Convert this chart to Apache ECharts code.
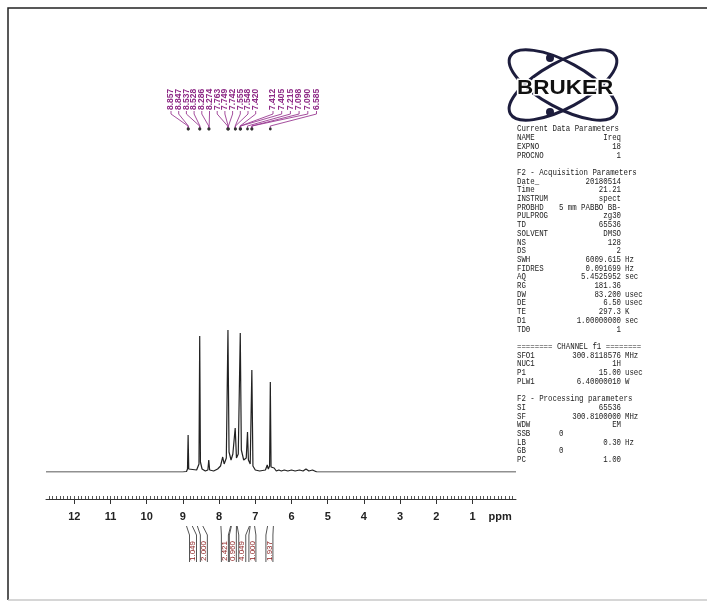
<!DOCTYPE html>
<html><head><meta charset="utf-8">
<script src="https://cdn.jsdelivr.net/npm/echarts@6/dist/echarts.min.js"></script>
<style>html,body{margin:0;padding:0;background:#fff}#c{width:710px;height:603px}</style>
</head><body><div id="c"></div>
<script>
// ---------- data ----------
// 1H NMR spectrum (ppm, relative intensity)
const spectrumPpm = [12.78, 9.00, 8.90, 8.872, 8.855, 8.838, 8.80, 8.62, 8.555, 8.535, 8.515, 8.47,
  8.38, 8.31, 8.285, 8.26, 8.15, 8.04, 7.96, 7.90, 7.86, 7.80, 7.755, 7.725,
  7.67, 7.62, 7.555, 7.52, 7.47, 7.415, 7.385, 7.32, 7.25, 7.215, 7.19, 7.14,
  7.095, 7.065, 7.00, 6.88, 6.72, 6.67, 6.64, 6.605, 6.585, 6.565, 6.52, 6.48,
  6.42, 6.35, 6.28, 6.20, 6.10, 6.00, 5.90, 5.78, 5.68, 5.60, 5.52, 5.42, 5.30, -0.20];
const spectrumInt = [0, 0, 0.5, 3, 37, 3, 1, 2, 8, 136, 10, 3,
  1, 2, 12, 2, 1, 3, 6, 15, 8, 14, 142, 20,
  12, 18, 44, 14, 18, 139, 22, 12, 14, 40, 12, 8,
  102, 6, 2, 1, 2, 7, 3, 6, 90, 5, 3, 4,
  1, 2, 1, 2, 1, 2, 1, 2, 1, 3, 1, 2, 0, 0];

const axisTickValues = [1, 2, 3, 4, 5, 6, 7, 8, 9, 10, 11, 12];
const axisTickLabels = ['1', '2', '3', '4', '5', '6', '7', '8', '9', '10', '11', '12'];
const axisUnitLabel = 'ppm';

// peak-picking labels (ppm)
const peakLabels = ['8.857', '8.847', '8.537', '8.528', '8.286', '8.274', '7.763', '7.749', '7.742',
  '7.555', '7.548', '7.420', '7.412', '7.405', '7.215', '7.098', '7.090', '6.585'];

// integrals
const integralFrom = [8.90, 8.60, 7.95, 7.66, 7.50, 7.14, 6.66];
const integralTo = [8.74, 8.45, 7.68, 7.52, 7.16, 7.02, 6.50];
const integralValues = ['1.049', '2.000', '2.421', '0.960', '4.049', '1.000', '1.937'];

// parameter listing
const paramNames = ['Current Data Parameters', 'NAME', 'EXPNO', 'PROCNO', '',
  'F2 - Acquisition Parameters', 'Date_', 'Time', 'INSTRUM', 'PROBHD', 'PULPROG', 'TD', 'SOLVENT', 'NS', 'DS',
  'SWH', 'FIDRES', 'AQ', 'RG', 'DW', 'DE', 'TE', 'D1', 'TD0', '',
  '======== CHANNEL f1 ========', 'SFO1', 'NUC1', 'P1', 'PLW1', '',
  'F2 - Processing parameters', 'SI', 'SF', 'WDW', 'SSB', 'LB', 'GB', 'PC'];
const paramValues = ['', 'Ireq', '18', '1', '',
  '', '20180514', '21.21', 'spect', '5 mm PABBO BB-', 'zg30', '65536', 'DMSO', '128', '2',
  '6009.615', '0.091699', '5.4525952', '181.36', '83.200', '6.50', '297.3', '1.00000000', '1', '',
  '', '300.8118576', '1H', '15.00', '6.40000010', '',
  '', '65536', '300.8100000', 'EM', '0             ', '0.30', '0             ', '1.00'];
const paramUnits = ['', '', '', '', '',
  '', '', '', '', '', '', '', '', '', '',
  'Hz', 'Hz', 'sec', '', 'usec', 'usec', 'K', 'sec', '', '',
  '', 'MHz', '', 'usec', 'W', '',
  '', '', 'MHz', '', '', 'Hz', '', ''];

// ---------- layout ----------
const X_MIN = -0.2, X_MAX = 12.78;
const GRID = { left: 46, right: 194, top: 322, height: 150 };
const integralLabelPpm = [8.72, 8.42, 7.84, 7.62, 7.36, 7.08, 6.61];
const minorTickValues = [];
for (let k = -1; k <= 127; k++) minorTickValues.push(+(k / 10).toFixed(1));
const PPM_LABEL_POS = 0.24;

const chart = echarts.init(document.getElementById('c'));

const spectrumData = spectrumPpm.map((p, i) => [p, spectrumInt[i]]);

// parameter block graphics
const MONO = '7.4px "Liberation Mono"';
const paramGraphics = [];
paramNames.forEach((n, i) => {
  const y = 129 + i * 8.7;
  const common = { scaleY: 1.25, silent: true };
  if (n) paramGraphics.push(Object.assign({ type: 'text', x: 517, y, style: { text: n, font: MONO, fill: '#222', align: 'left', verticalAlign: 'middle' } }, common));
  if (paramValues[i]) paramGraphics.push(Object.assign({ type: 'text', x: 621, y, style: { text: paramValues[i], font: MONO, fill: '#222', align: 'right', verticalAlign: 'middle' } }, common));
  if (paramUnits[i]) paramGraphics.push(Object.assign({ type: 'text', x: 625, y, style: { text: paramUnits[i], font: MONO, fill: '#222', align: 'left', verticalAlign: 'middle' } }, common));
});

const logo = [
  { type: 'group', x: 563, y: 85, rotation: -0.5, children: [
    { type: 'ellipse', shape: { cx: 0, cy: 0, rx: 60, ry: 23 }, style: { fill: null, stroke: '#1d1d3d', lineWidth: 3 } }] },
  { type: 'group', x: 563, y: 85, rotation: 0.5, children: [
    { type: 'ellipse', shape: { cx: 0, cy: 0, rx: 60, ry: 23 }, style: { fill: null, stroke: '#1d1d3d', lineWidth: 3 } }] },
  { type: 'circle', shape: { cx: 550, cy: 58, r: 4 }, style: { fill: '#1d1d3d' } },
  { type: 'circle', shape: { cx: 550, cy: 112, r: 4 }, style: { fill: '#1d1d3d' } },
  { type: 'text', x: 517, y: 88, scaleX: 1.07, style: { text: 'BRUKER', font: 'bold 21px "Liberation Sans"', fill: '#111', align: 'left', verticalAlign: 'middle', stroke: '#fff', lineWidth: 3, strokeFirst: true } }
];

const frame = [
  { type: 'polyline', shape: { points: [[8, 600], [8, 8], [707, 8]] }, style: { fill: null, stroke: '#222', lineWidth: 1.5 } },
  { type: 'line', shape: { x1: 8, y1: 600, x2: 707, y2: 600 }, style: { stroke: '#c8c8c8', lineWidth: 1.5 } }
];

const option = {
  backgroundColor: '#fff',
  animation: false,
  grid: [
    { left: GRID.left, right: GRID.right, top: GRID.top, height: GRID.height },
    { left: GRID.left, right: GRID.right, top: GRID.top, height: GRID.height }
  ],
  xAxis: [
    { type: 'value', gridIndex: 0, min: X_MIN, max: X_MAX, inverse: true, position: 'bottom', offset: 27,
      splitLine: { show: false },
      axisLine: { show: true, onZero: false, lineStyle: { color: '#333', width: 1 } },
      axisTick: { show: true, customValues: axisTickValues, length: 5, lineStyle: { color: '#333', width: 1 } },
      axisLabel: { show: true, customValues: axisTickValues.concat([PPM_LABEL_POS]), margin: 12,
        formatter: v => v === PPM_LABEL_POS ? axisUnitLabel : axisTickLabels[axisTickValues.indexOf(v)],
        color: '#222', fontSize: 11, fontWeight: 'bold', fontFamily: 'Liberation Sans' } },
    { type: 'value', gridIndex: 1, min: X_MIN, max: X_MAX, inverse: true, position: 'bottom', offset: 27,
      splitLine: { show: false },
      axisLine: { show: false, onZero: false },
      axisTick: { show: true, inside: true, customValues: minorTickValues, length: 3, lineStyle: { color: '#555', width: 1 } },
      axisLabel: { show: false } }
  ],
  yAxis: [
    { type: 'value', gridIndex: 0, min: 0, max: 150, show: false },
    { type: 'value', gridIndex: 1, min: 0, max: 150, show: false }
  ],
  graphic: { elements: frame.concat(logo, paramGraphics) },
  series: [
    { type: 'line', xAxisIndex: 0, yAxisIndex: 0, data: spectrumData, showSymbol: false, symbol: 'none',
      lineStyle: { color: '#222', width: 1.2 }, silent: true, clip: true },
    { type: 'custom', xAxisIndex: 0, yAxisIndex: 0, clip: false, silent: true,
      data: peakLabels.map(s => [parseFloat(s), 0]),
      renderItem: (params, api) => {
        const i = params.dataIndex;
        const slotX = i < 12 ? 171 + i * 7.7 : 273 + (i - 12) * 8.7;
        const px = api.coord([api.value(0), 0])[0];
        return { type: 'group', children: [
          { type: 'polyline', shape: { points: [[slotX, 111], [slotX, 114], [px, 126], [px, 129]] },
            style: { fill: null, stroke: '#9a3a92', lineWidth: 0.9 } },
          { type: 'text', x: slotX, y: 110, rotation: Math.PI / 2,
            style: { text: peakLabels[i], font: 'bold 8.5px "Liberation Sans"', fill: '#8e2a86', align: 'left', verticalAlign: 'middle' } },
          { type: 'circle', shape: { cx: px, cy: 129, r: 1.4 }, style: { fill: '#333' } }
        ] };
      } },
    { type: 'custom', xAxisIndex: 0, yAxisIndex: 0, clip: false, silent: true,
      data: integralFrom.map((f, i) => [f, integralTo[i], integralLabelPpm[i]]),
      encode: { x: [0, 1, 2], y: -1 },
      renderItem: (params, api) => {
        const i = params.dataIndex;
        const x1 = api.coord([api.value(0), 0])[0];
        const x2 = api.coord([api.value(1), 0])[0];
        const xl = api.coord([api.value(2), 0])[0];
        const yTop = 526, yKnee = 535, yBot = 562, hw = 3.5;
        const st = { fill: null, stroke: '#555', lineWidth: 1 };
        return { type: 'group', children: [
          { type: 'polyline', shape: { points: [[x1, yTop], [xl - hw, yKnee], [xl - hw, yBot]] }, style: st },
          { type: 'polyline', shape: { points: [[x2, yTop], [xl + hw, yKnee], [xl + hw, yBot]] }, style: st },
          { type: 'text', x: xl, y: yBot - 1, rotation: Math.PI / 2,
            style: { text: integralValues[i], font: '8px "Liberation Sans"', fill: '#8b1c1c', align: 'left', verticalAlign: 'middle' } }
        ] };
      } }
  ]
};
chart.setOption(option);
</script>
</body></html>
